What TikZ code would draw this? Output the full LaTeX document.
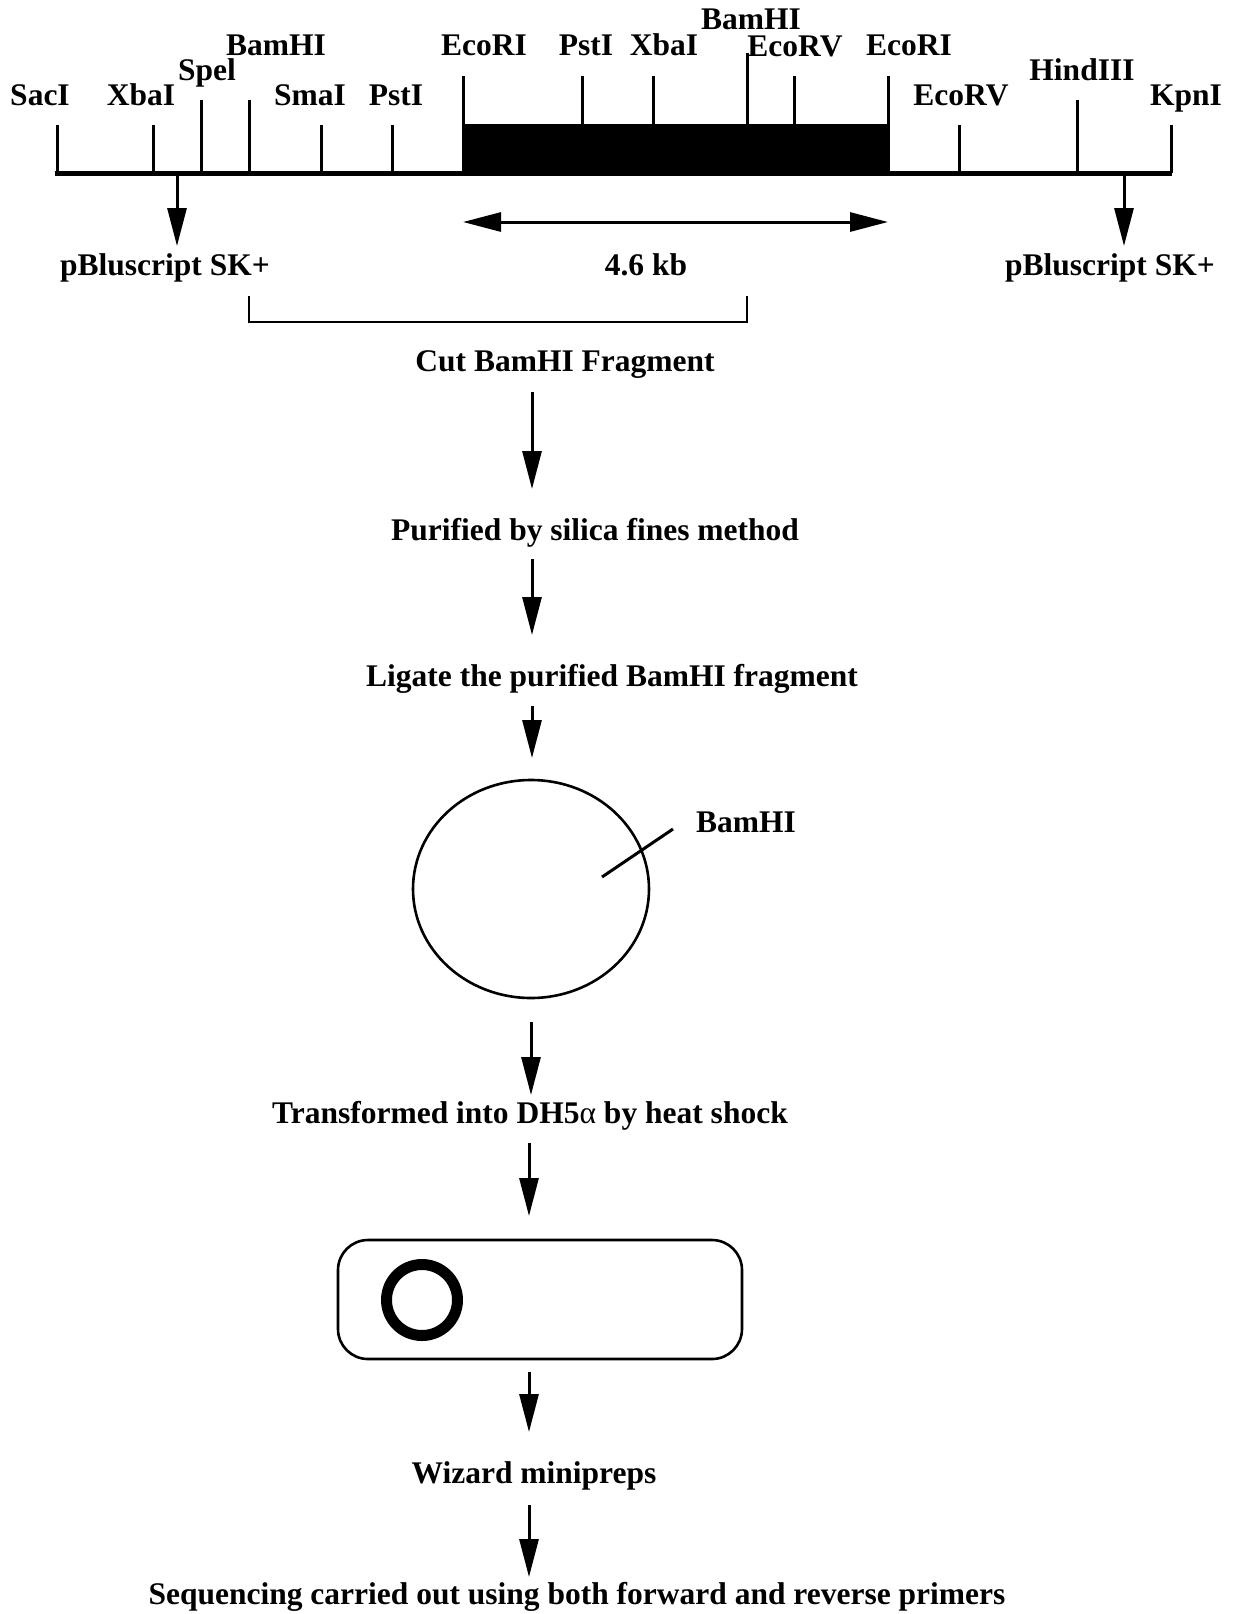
\documentclass[tikz,border=0pt]{standalone}
\usepackage{fontspec}
\setmainfont{Liberation Serif}
\usetikzlibrary{arrows.meta}

\tikzset{
  lbl/.style={inner sep=0pt, anchor=base,
    font=\fontsize{15.75}{18}\selectfont\bfseries},
  tick/.style={line width=1.5pt},
  flow/.style={line width=1.5pt, -{Triangle[length=19pt,width=9.5pt]}},
  twoway/.style={line width=1.5pt,
    {Triangle[length=19pt,width=9.5pt]}-{Triangle[length=19pt,width=9.5pt]}},
  thin/.style={line width=1.2pt}
}

\begin{document}
\begin{tikzpicture}[x=0.5pt,y=-0.5pt]
\useasboundingbox (0,0) rectangle (1236,1614);

% ---- restriction map ----
% insert (black block)
\fill (463,124) rectangle (888,175);
% vector backbone
\draw[line width=2.5pt] (55,173) -- (1172,173);

% cut sites: x position and top of the tick
\foreach \x/\t in {57/125,153/125,201/100,249/100,321/125,392/125,
                   463/76,582/76,653/76,747/53,794/76,888/76,
                   959/125,1077/100,1171/125}
  \draw[tick] (\x,\t) -- (\x,173);

% site names
\node[lbl] (sacI)   at (40,105)   {SacI};
\node[lbl] (xbaIa)  at (141,105)  {XbaI};
\node[lbl] (speI)   at (207,80)   {Spel};
\node[lbl] (bamHIa) at (276,55)   {BamHI};
\node[lbl] (smaI)   at (310,105)  {SmaI};
\node[lbl] (pstIa)  at (396,105)  {PstI};
\node[lbl] (ecoRIa) at (484,55)   {EcoRI};
\node[lbl] (pstIb)  at (586,55)   {PstI};
\node[lbl] (xbaIb)  at (664,55)   {XbaI};
\node[lbl] (bamHIb) at (751,29)   {BamHI};
\node[lbl] (ecoRVa) at (795,56)   {EcoRV};
\node[lbl] (ecoRIb) at (909,55)   {EcoRI};
\node[lbl] (ecoRVb) at (961,105)  {EcoRV};
\node[lbl] (hind)   at (1082,80)  {HindIII};
\node[lbl] (kpnI)   at (1186,105) {KpnI};

% vector arms
\coordinate (armL) at (177,176);
\coordinate (armR) at (1124,176);
\node[lbl] (vecL) at (165,275)  {pBluscript SK+};
\node[lbl] (vecR) at (1110,275) {pBluscript SK+};
\draw[flow] (armL) -- (177,246);
\draw[flow] (armR) -- (1124,246);

% insert size
\coordinate (insL) at (463,222);
\coordinate (insR) at (888,222);
\draw[twoway] (insL) -- (insR);
\node[lbl] (size) at (646,275) {4.6 kb};

% BamHI fragment bracket
\coordinate (brL) at (249,296);
\coordinate (brR) at (747,296);
\draw[thin] (brL) -- (249,322) -- (747,322) -- (brR);

% ---- procedure ----
\node[lbl] (cut)  at (565,371) {Cut BamHI Fragment};
\node[lbl] (puri) at (595,540) {Purified by silica fines method};
\node[lbl] (liga) at (612,686) {Ligate the purified BamHI fragment};

\coordinate (a1s) at (532,392);  \coordinate (a1e) at (532,489);
\coordinate (a2s) at (532,559);  \coordinate (a2e) at (532,635);
\coordinate (a3s) at (532,706);  \coordinate (a3e) at (532,758);
\draw[flow] (a1s) -- (a1e);
\draw[flow] (a2s) -- (a2e);
\draw[flow] (a3s) -- (a3e);

% recombinant plasmid
\draw[line width=1.3pt] (531,889) ellipse [x radius=118, y radius=109];
\coordinate (siteIn)  at (602,877);
\coordinate (siteOut) at (673,829);
\draw[line width=1.5pt] (siteIn) -- (siteOut);
\node[lbl] (plasBam) at (746,832) {BamHI};

\coordinate (a4s) at (531,1022); \coordinate (a4e) at (531,1095);
\draw[flow] (a4s) -- (a4e);
\node[lbl] (trans) at (530,1123)
  {Transformed into DH5{\mdseries α} by heat shock};

\coordinate (a5s) at (529,1143); \coordinate (a5e) at (529,1216);
\draw[flow] (a5s) -- (a5e);

% host cell carrying the plasmid
\draw[line width=1.3pt, rounded corners=15pt] (338,1240) rectangle (742,1359);
\draw[line width=5.5pt] (422,1300) circle [radius=35.5];

\coordinate (a6s) at (529,1372); \coordinate (a6e) at (529,1432);
\draw[flow] (a6s) -- (a6e);
\node[lbl] (mini) at (534,1483) {Wizard minipreps};

\coordinate (a7s) at (529,1505); \coordinate (a7e) at (529,1577);
\draw[flow] (a7s) -- (a7e);
\node[lbl] (seq) at (577,1604)
  {Sequencing carried out using both forward and reverse primers};
\end{tikzpicture}
\end{document}
